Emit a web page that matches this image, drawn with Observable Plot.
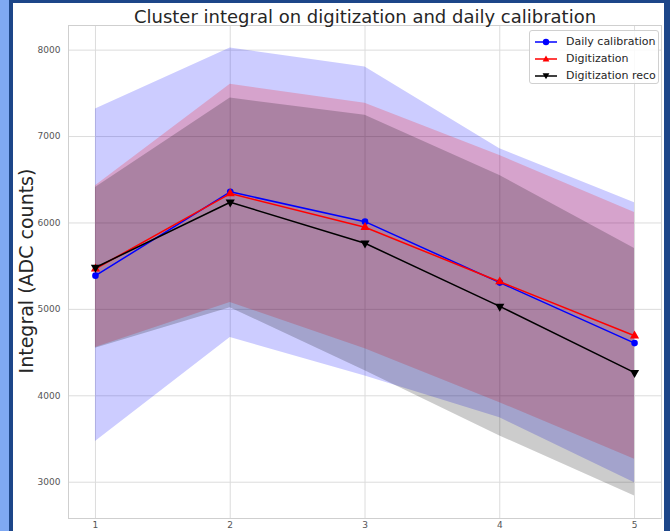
<!DOCTYPE html>
<html><head><meta charset="utf-8">
<script src="https://cdn.jsdelivr.net/npm/d3@7"></script>
<script src="https://cdn.jsdelivr.net/npm/@observablehq/plot@0.6"></script>
<style>
html,body{margin:0;padding:0;background:#fff;}
#wrap{position:relative;width:670px;height:531px;overflow:hidden;font-family:"DejaVu Sans",sans-serif;background:#fff;}
#chart{position:absolute;left:0;top:0;}
.deco{position:absolute;}
#lstrip{left:0;top:0;width:9px;height:531px;background:#7fa9f3;}
#lborder{left:9px;top:0;width:4px;height:531px;background:#1d4689;}
#tborder{left:9px;top:0;width:661px;height:3px;background:#1d4689;}
#rborder{left:664px;top:0;width:6px;height:531px;background:#1d4689;}
#ylabel{position:absolute;left:26px;top:271px;transform:translate(-50%,-50%) rotate(-90deg);font-size:19px;color:#262626;white-space:nowrap;line-height:1;}
#legend{position:absolute;left:529px;top:30px;width:130px;height:54px;background:rgba(255,255,255,0.85);border:1px solid #d0d0d0;border-radius:3px;box-sizing:border-box;}
.lrow{position:absolute;left:0;height:14px;width:128px;}
.lrow svg{position:absolute;left:3px;top:0;}
.lrow span{position:absolute;left:36px;top:0;font-size:11px;line-height:14px;color:#262626;white-space:nowrap;}
</style>
</head><body>
<div id="wrap">
<div id="chart"></div>
<div class="deco" id="lstrip"></div>
<div class="deco" id="lborder"></div>
<div class="deco" id="tborder"></div>
<div class="deco" id="rborder"></div>
<div id="ylabel"></div>
<div id="legend"></div>
</div>
<script>
const titleText = "Cluster integral on digitization and daily calibration";
const yLabelText = "Integral (ADC counts)";
const xs = [1, 2, 3, 4, 5];
const xTicks = [1, 2, 3, 4, 5];
const yTicks = [3000, 4000, 5000, 6000, 7000, 8000];
const seriesNames = ["Daily calibration", "Digitization", "Digitization reco"];

const calibMean  = [5390, 6360, 6015, 5310, 4610];
const calibUpper = [7320, 8025, 7805, 6860, 6235];
const calibLower = [3470, 4675, 4230, 3745, 2995];

const digiMean  = [5470, 6340, 5950, 5320, 4695];
const digiUpper = [6430, 7605, 7385, 6780, 6120];
const digiLower = [4560, 5080, 4545, 3920, 3265];

const recoMean  = [5485, 6240, 5765, 5035, 4268];
const recoUpper = [6410, 7445, 7245, 6550, 5705];
const recoLower = [4550, 5020, 4290, 3535, 2840];

function rows(mean, lo, hi, name) {
  return xs.map((x, i) => ({x, mean: mean[i], lo: lo[i], hi: hi[i], name}));
}
const calib = rows(calibMean, calibLower, calibUpper, seriesNames[0]);
const digi = rows(digiMean, digiLower, digiUpper, seriesNames[1]);
const reco = rows(recoMean, recoLower, recoUpper, seriesNames[2]);

const colors = ["blue", "red", "black"];
const gridColor = "#dcdcdc";

const chart = Plot.plot({
  width: 670, height: 531,
  marginLeft: 68, marginRight: 9, marginTop: 25, marginBottom: 13,
  style: {fontFamily: "DejaVu Sans, sans-serif", fontSize: "9px", color: "#555", background: "transparent", overflow: "visible"},
  x: {domain: [0.8, 5.2], label: null},
  y: {domain: [2580, 8285], label: null},
  marks: [
    Plot.ruleY(yTicks, {stroke: gridColor, strokeWidth: 1}),
    Plot.ruleX(xTicks, {stroke: gridColor, strokeWidth: 1}),
    Plot.areaY(calib, {x: "x", y1: "lo", y2: "hi", fill: colors[0], fillOpacity: 0.2}),
    Plot.areaY(digi, {x: "x", y1: "lo", y2: "hi", fill: colors[1], fillOpacity: 0.2}),
    Plot.areaY(reco, {x: "x", y1: "lo", y2: "hi", fill: colors[2], fillOpacity: 0.2}),
    Plot.line(calib, {x: "x", y: "mean", stroke: colors[0], strokeWidth: 1.5}),
    Plot.line(digi, {x: "x", y: "mean", stroke: colors[1], strokeWidth: 1.5}),
    Plot.line(reco, {x: "x", y: "mean", stroke: colors[2], strokeWidth: 1.5}),
    Plot.dot(calib, {x: "x", y: "mean", fill: colors[0], r: 3.3, symbol: "circle"}),
    Plot.dot(digi, {x: "x", y: "mean", fill: colors[1], r: 3.4, symbol: "triangle"}),
    Plot.dot(reco, {x: "x", y: "mean", fill: colors[2], r: 3.4, symbol: "triangle", rotate: 180}),
    Plot.frame({stroke: "#cfcfcf"}),
    Plot.axisX(xTicks, {tickSize: 0, tickPadding: 3, tickFormat: d => String(d), label: null}),
    Plot.axisY(yTicks, {tickSize: 0, tickPadding: 8, tickFormat: d => String(d), label: null}),
    Plot.text([titleText], {text: d => d, frameAnchor: "top", lineAnchor: "bottom", dy: -3, fontSize: 18, fill: "#262626"})
  ]
});
document.getElementById("chart").appendChild(chart);
document.getElementById("ylabel").textContent = yLabelText;

// legend
const legend = document.getElementById("legend");
const symbols = ["circle", "up", "down"];
seriesNames.forEach((name, i) => {
  const row = document.createElement("div");
  row.className = "lrow";
  row.style.top = (4 + i * 17) + "px";
  let marker;
  if (symbols[i] === "circle") marker = `<circle cx="13" cy="7" r="3.2" fill="${colors[i]}"/>`;
  else if (symbols[i] === "up") marker = `<path d="M13,3.4 L16.4,9.4 L9.6,9.4 Z" fill="${colors[i]}"/>`;
  else marker = `<path d="M13,10.2 L16.4,4.2 L9.6,4.2 Z" fill="${colors[i]}"/>`;
  row.innerHTML = `<svg width="28" height="14"><line x1="2" y1="7" x2="24" y2="7" stroke="${colors[i]}" stroke-width="1.5"/>${marker}</svg><span>${name}</span>`;
  legend.appendChild(row);
});
</script>
</body></html>
